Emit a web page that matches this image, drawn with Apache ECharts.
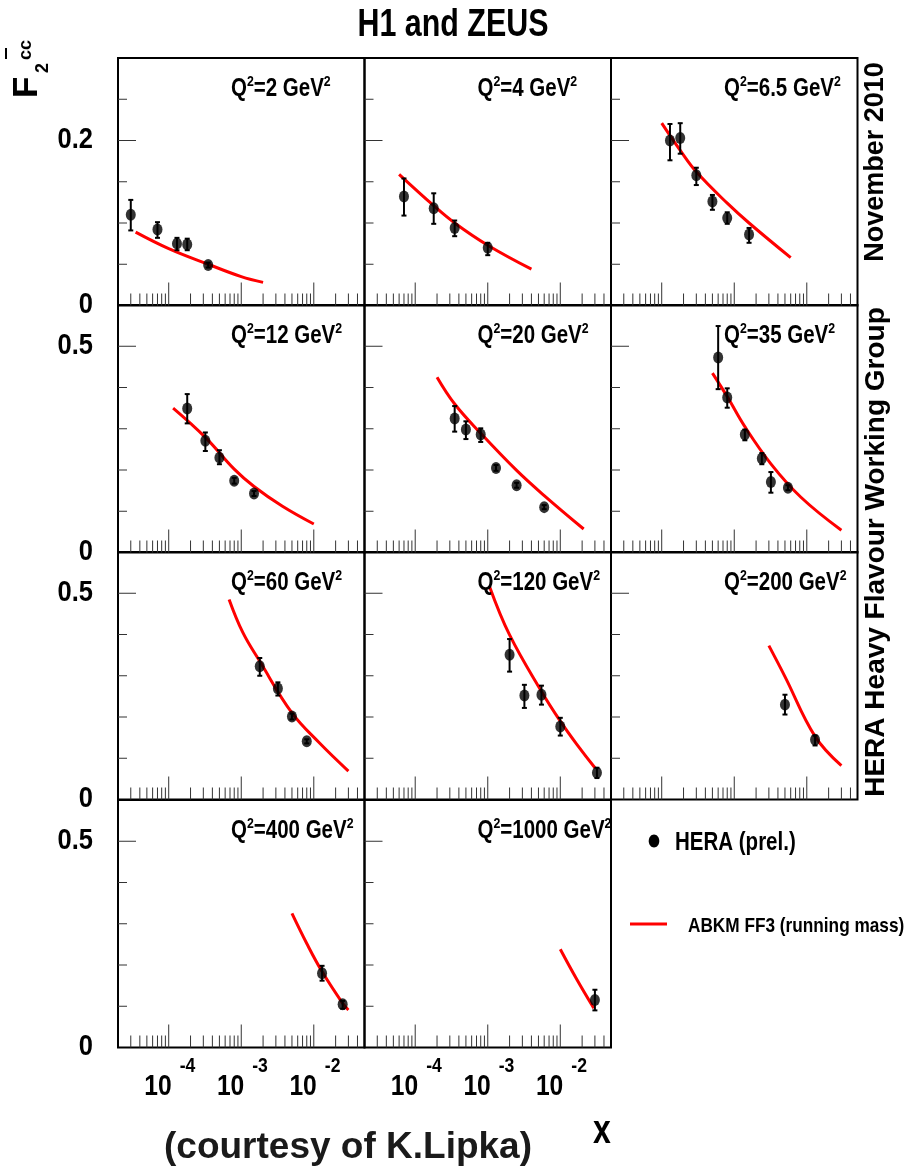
<!DOCTYPE html>
<html>
<head>
<meta charset="utf-8">
<script src="https://cdn.jsdelivr.net/npm/echarts@6/dist/echarts.min.js"></script>
<style>
  html, body { margin: 0; padding: 0; background: #fff; }
  #chart { width: 908px; height: 1167px; }
</style>
</head>
<body>
<div id="chart"></div>
<script>
// Q^2 of each panel (GeV^2), row by row
const q2Labels = ['2', '4', '6.5', '12', '20', '35', '60', '120', '200', '400', '1000'];

// HERA (prel.) points: [x, F2cc, lower edge, upper edge]
const hera_2 = [[3.0e-5, 0.110, 0.091, 0.128], [7.0e-5, 0.092, 0.082, 0.101], [1.3e-4, 0.075, 0.067, 0.082], [1.8e-4, 0.074, 0.067, 0.081], [3.5e-4, 0.049, 0.046, 0.052]];
const hera_4 = [[7.0e-5, 0.132, 0.109, 0.154], [1.8e-4, 0.118, 0.099, 0.136], [3.5e-4, 0.094, 0.084, 0.103], [1.0e-3, 0.070, 0.061, 0.076]];
const hera_6_5 = [[1.3e-4, 0.200, 0.176, 0.220], [1.8e-4, 0.203, 0.184, 0.221], [3.0e-4, 0.158, 0.146, 0.167], [5.0e-4, 0.126, 0.116, 0.134], [8.0e-4, 0.106, 0.099, 0.113], [1.6e-3, 0.086, 0.076, 0.094]];
const hera_12 = [[1.8e-4, 0.349, 0.313, 0.384], [3.2e-4, 0.271, 0.246, 0.291], [5.0e-4, 0.230, 0.214, 0.248], [8.0e-4, 0.174, 0.167, 0.181], [1.5e-3, 0.143, 0.137, 0.149]];
const hera_20 = [[3.5e-4, 0.325, 0.293, 0.355], [5.0e-4, 0.298, 0.275, 0.318], [8.0e-4, 0.286, 0.268, 0.301], [1.3e-3, 0.205, 0.198, 0.212], [2.5e-3, 0.163, 0.157, 0.169], [6.0e-3, 0.110, 0.105, 0.115]];
const hera_35 = [[6.0e-4, 0.473, 0.396, 0.549], [8.0e-4, 0.376, 0.351, 0.398], [1.4e-3, 0.286, 0.272, 0.298], [2.4e-3, 0.228, 0.214, 0.241], [3.2e-3, 0.171, 0.145, 0.195], [5.5e-3, 0.157, 0.151, 0.163]];
const hera_60 = [[1.8e-3, 0.323, 0.300, 0.343], [3.2e-3, 0.269, 0.252, 0.284], [5.0e-3, 0.201, 0.194, 0.208], [8.0e-3, 0.141, 0.136, 0.146]];
const hera_120 = [[2.0e-3, 0.351, 0.310, 0.389], [3.2e-3, 0.252, 0.222, 0.278], [5.5e-3, 0.254, 0.230, 0.276], [1.0e-2, 0.177, 0.155, 0.198], [3.2e-2, 0.065, 0.052, 0.077]];
const hera_200 = [[5.0e-3, 0.230, 0.206, 0.254], [1.3e-2, 0.145, 0.131, 0.155]];
const hera_400 = [[1.3e-2, 0.180, 0.162, 0.198], [2.5e-2, 0.105, 0.094, 0.113]];
const hera_1000 = [[3.0e-2, 0.115, 0.090, 0.140]];

// ABKM FF3 (running mass): [x, F2cc]
const abkm_2 = [[3.5e-5, 0.089], [1e-4, 0.069], [3.5e-4, 0.050], [1e-3, 0.035], [2e-3, 0.028]];
const abkm_4 = [[6e-5, 0.159], [1.8e-4, 0.121], [3.5e-4, 0.100], [1e-3, 0.073], [4e-3, 0.044]];
const abkm_6_5 = [[1e-4, 0.221], [1.8e-4, 0.188], [3e-4, 0.162], [8e-4, 0.124], [1.6e-3, 0.100], [6e-3, 0.058]];
const abkm_12 = [[1.15e-4, 0.350], [3.2e-4, 0.279], [8e-4, 0.202], [1.5e-3, 0.160], [3.7e-3, 0.112], [1e-2, 0.069]];
const abkm_20 = [[2e-4, 0.425], [3.5e-4, 0.360], [8e-4, 0.289], [2.5e-3, 0.199], [6e-3, 0.138], [2.1e-2, 0.057]];
const abkm_35 = [[5e-4, 0.435], [8e-4, 0.378], [1.4e-3, 0.305], [3.2e-3, 0.215], [8.3e-3, 0.134], [3e-2, 0.054]];
const abkm_60 = [[6.8e-4, 0.485], [1.05e-3, 0.405], [1.8e-3, 0.335], [5e-3, 0.210], [1.2e-2, 0.137], [3e-2, 0.069]];
const abkm_120 = [[1.06e-3, 0.516], [2e-3, 0.399], [5.5e-3, 0.262], [1e-2, 0.190], [1.7e-2, 0.133], [3e-2, 0.077]];
const abkm_200 = [[3e-3, 0.373], [5e-3, 0.298], [1.3e-2, 0.153], [3e-2, 0.082]];
const abkm_400 = [[5e-3, 0.325], [8e-3, 0.252], [1.3e-2, 0.184], [2.5e-2, 0.107], [3e-2, 0.091]];
const abkm_1000 = [[1e-2, 0.238], [1.7e-2, 0.164], [2.9e-2, 0.095]];

const heraSets = [hera_2, hera_4, hera_6_5, hera_12, hera_20, hera_35, hera_60, hera_120, hera_200, hera_400, hera_1000];
const abkmSets = [abkm_2, abkm_4, abkm_6_5, abkm_12, abkm_20, abkm_35, abkm_60, abkm_120, abkm_200, abkm_400, abkm_1000];

// axis ranges and ticks
const X_MIN = 2e-5, X_MAX = 0.05;
const xMajorTicks = [1e-4, 1e-3, 1e-2];
const xLabelExp = [-4, -3, -2];
const xMinorTicks = [3e-5, 4e-5, 5e-5, 6e-5, 7e-5, 8e-5, 9e-5,
  2e-4, 3e-4, 4e-4, 5e-4, 6e-4, 7e-4, 8e-4, 9e-4,
  2e-3, 3e-3, 4e-3, 5e-3, 6e-3, 7e-3, 8e-3, 9e-3,
  2e-2, 3e-2, 4e-2];
const yMaxTop = 0.3, yMaxRest = 0.6;
const yMinorTop = [0.05, 0.1, 0.15, 0.25], yMajorTop = [0.2];
const yMinorRest = [0.1, 0.2, 0.3, 0.4], yMajorRest = [0.5];

// layout
const PANEL_LEFT = 118, PANEL_W = 246.5, PANEL_H = 247.5;
const ROW_TOP = [58, 305, 552, 800];
const FONT = "'Liberation Sans', Arial, sans-serif";
const SQ = 0.82; // the original lettering is horizontally squeezed

function renderTick(params, api) {
  const kind = api.value(2);
  const p = api.coord([api.value(0), api.value(1)]);
  let shape;
  if (kind < 2) {
    const len = kind === 1 ? 23 : 12;
    shape = { x1: p[0], y1: p[1], x2: p[0], y2: p[1] - len };
  } else {
    const len = kind === 3 ? 18 : 9;
    shape = { x1: p[0], y1: p[1], x2: p[0] + len, y2: p[1] };
  }
  return { type: 'line', shape, style: { stroke: '#333', lineWidth: 1 } };
}

function renderErr(params, api) {
  const x = api.value(0);
  const lo = api.coord([x, api.value(2)]);
  const hi = api.coord([x, api.value(3)]);
  const st = { stroke: '#000', lineWidth: 2 };
  return {
    type: 'group',
    children: [
      { type: 'line', shape: { x1: lo[0], y1: lo[1], x2: hi[0], y2: hi[1] }, style: st },
      { type: 'line', shape: { x1: lo[0] - 2.5, y1: lo[1], x2: lo[0] + 2.5, y2: lo[1] }, style: st },
      { type: 'line', shape: { x1: hi[0] - 2.5, y1: hi[1], x2: hi[0] + 2.5, y2: hi[1] }, style: st }
    ]
  };
}

function renderXLabel(params, api) {
  const p = api.coord([api.value(0), 0]);
  return {
    type: 'group',
    children: [
      { type: 'text', x: p[0] + 3, y: p[1] + 39, scaleX: SQ,
        style: { text: '10', font: 'bold 30px ' + FONT, align: 'right', verticalAlign: 'middle', fill: '#000' } },
      { type: 'text', x: p[0] + 11, y: p[1] + 19, scaleX: 0.88,
        style: { text: String(api.value(2)), font: 'bold 20px ' + FONT, align: 'left', verticalAlign: 'middle', fill: '#000' } }
    ]
  };
}

function renderYLabel(params, api) {
  const v = api.value(1);
  const p = api.coord([api.value(0), v]);
  return { type: 'text', x: p[0] - 25, y: p[1] - 1, scaleX: 0.85,
    style: { text: String(v), font: 'bold 30px ' + FONT, align: 'right', verticalAlign: 'middle', fill: '#000' } };
}

const grids = [], xAxes = [], yAxes = [], series = [], graphics = [];

q2Labels.forEach((q2, i) => {
  const row = Math.floor(i / 3), col = i % 3;
  const left = PANEL_LEFT + col * PANEL_W, top = ROW_TOP[row];
  const yMax = row === 0 ? yMaxTop : yMaxRest;
  const yMinor = row === 0 ? yMinorTop : yMinorRest;
  const yMajor = row === 0 ? yMajorTop : yMajorRest;

  grids.push({ left, top, width: PANEL_W, height: PANEL_H, show: true,
    borderColor: '#000', borderWidth: 2, backgroundColor: 'rgba(0,0,0,0)' });
  xAxes.push({ type: 'log', logBase: 10, gridIndex: i, min: X_MIN, max: X_MAX,
    axisLine: { show: false }, axisTick: { show: false }, axisLabel: { show: false }, splitLine: { show: false } });
  yAxes.push({ type: 'value', gridIndex: i, min: 0, max: yMax, interval: 0.1,
    axisLine: { show: false }, axisTick: { show: false }, axisLabel: { show: false }, splitLine: { show: false } });

  // tick marks
  const tickData = [];
  xMinorTicks.forEach(v => tickData.push([v, 0, 0]));
  xMajorTicks.forEach(v => tickData.push([v, 0, 1]));
  yMinor.forEach(v => tickData.push([X_MIN, v, 2]));
  yMajor.forEach(v => tickData.push([X_MIN, v, 3]));
  series.push({ type: 'custom', xAxisIndex: i, yAxisIndex: i, data: tickData, renderItem: renderTick, silent: true, z: 1 });

  // y labels on the left column
  if (col === 0) {
    series.push({ type: 'custom', xAxisIndex: i, yAxisIndex: i,
      data: [[X_MIN, 0], [X_MIN, yMajor[0]]], renderItem: renderYLabel, silent: true, z: 6 });
  }

  // theory curve
  series.push({ type: 'line', name: 'ABKM FF3 (running mass)', xAxisIndex: i, yAxisIndex: i,
    data: abkmSets[i], smooth: 0.4, symbol: 'none', silent: true,
    lineStyle: { color: '#ff0000', width: 3 }, z: 3 });

  // HERA points with error bars
  series.push({ type: 'custom', xAxisIndex: i, yAxisIndex: i, data: heraSets[i],
    encode: { x: 0, y: 1 }, renderItem: renderErr, silent: true, z: 4 });
  series.push({ type: 'scatter', name: 'HERA (prel.)', xAxisIndex: i, yAxisIndex: i,
    data: heraSets[i].map(d => [d[0], d[1]]), symbol: 'circle', symbolSize: [10, 12],
    itemStyle: { color: '#000' }, silent: true, z: 5 });

  // x labels under the bottom row
  if (row === 3) {
    series.push({ type: 'custom', xAxisIndex: i, yAxisIndex: i,
      data: xMajorTicks.map((v, k) => [v, 0, xLabelExp[k]]), renderItem: renderXLabel, silent: true, z: 6 });
  }

  // Q^2 label
  graphics.push({ type: 'text', x: left + 113, y: top + 31, scaleX: SQ, z: 10,
    style: {
      text: '{q|Q}{s|2}{q|=' + q2 + ' GeV}{s|2}', align: 'left', verticalAlign: 'middle',
      rich: {
        q: { font: 'bold 25px ' + FONT, fill: '#000' },
        s: { font: 'bold 15px ' + FONT, fill: '#000', padding: [0, 0, 15, 0] }
      }
    } });
});

// titles and side texts
graphics.push(
  { type: 'text', x: 453, y: 25, scaleX: 0.78, style: { text: 'H1 and ZEUS', font: 'bold 39px ' + FONT, align: 'center', verticalAlign: 'middle', fill: '#000' } },
  { type: 'text', x: 876, y: 162, rotation: Math.PI / 2, style: { text: 'November 2010', font: 'bold 27px ' + FONT, align: 'center', verticalAlign: 'middle', fill: '#000' } },
  { type: 'text', x: 876, y: 552, rotation: Math.PI / 2, style: { text: 'HERA Heavy Flavour Working Group', font: 'bold 28px ' + FONT, align: 'center', verticalAlign: 'middle', fill: '#000' } },
  { type: 'text', x: 348, y: 1148, style: { text: '(courtesy of K.Lipka)', font: 'bold 37px ' + FONT, align: 'center', verticalAlign: 'middle', fill: '#1a1a1a' } },
  { type: 'text', x: 602, y: 1132, scaleX: 0.8, style: { text: 'x', font: 'bold 40px ' + FONT, align: 'center', verticalAlign: 'middle', fill: '#000' } },
  // y title F2^cc-bar, written upward
  { type: 'group', x: 39, y: 98, rotation: Math.PI / 2, children: [
    { type: 'text', x: 0, y: -12, style: { text: 'F', font: 'bold 35px ' + FONT, align: 'left', verticalAlign: 'middle', fill: '#000' } },
    { type: 'text', x: 25, y: 4, style: { text: '2', font: 'bold 18px ' + FONT, align: 'left', verticalAlign: 'middle', fill: '#000' } },
    { type: 'text', x: 38, y: -13, style: { text: 'cc', font: 'bold 18px ' + FONT, align: 'left', verticalAlign: 'middle', fill: '#000' } },
    { type: 'line', shape: { x1: 39, y1: -33, x2: 50, y2: -33 }, style: { stroke: '#000', lineWidth: 2 } }
  ] },
  // legend
  { type: 'ellipse', shape: { cx: 654, cy: 841, rx: 5.3, ry: 6.5 }, style: { fill: '#000' } },
  { type: 'text', x: 675, y: 843, scaleX: SQ, style: { text: 'HERA (prel.)', font: 'bold 25px ' + FONT, align: 'left', verticalAlign: 'middle', fill: '#000' } },
  { type: 'line', shape: { x1: 630, y1: 924, x2: 667, y2: 924 }, style: { stroke: '#ff0000', lineWidth: 3 } },
  { type: 'text', x: 688, y: 926, scaleX: SQ, style: { text: 'ABKM FF3 (running mass)', font: 'bold 21px ' + FONT, align: 'left', verticalAlign: 'middle', fill: '#000' } }
);

const chart = echarts.init(document.getElementById('chart'));
chart.setOption({
  animation: false,
  backgroundColor: '#fff',
  grid: grids,
  xAxis: xAxes,
  yAxis: yAxes,
  series: series,
  graphic: { elements: graphics }
});
</script>
</body>
</html>
